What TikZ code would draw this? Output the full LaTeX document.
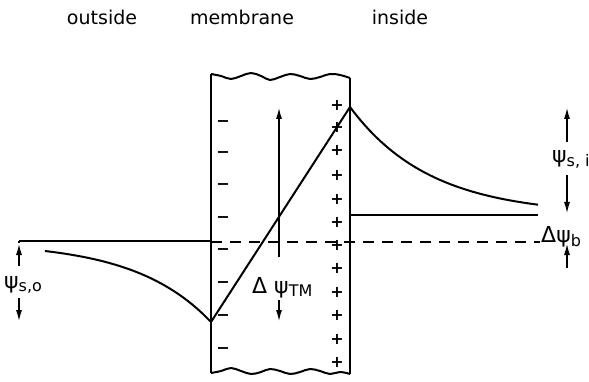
\documentclass[tikz,border=0pt]{standalone}
\usepackage{fontspec}
\setmainfont{DejaVu Sans}
\usetikzlibrary{arrows.meta}
\newcommand\mysub[1]{\raisebox{-0.3ex}{\fontsize{16}{16}\selectfont #1}}
\begin{document}
\begin{tikzpicture}[x=1pt,y=-1pt,
  thk/.style={line width=2pt},
  edge/.style={line width=2.6pt},
  dim/.style={line width=1.8pt,-{Latex[length=12pt,width=6pt]}},
  lbl/.style={font=\fontsize{19}{22}\selectfont,inner sep=0pt},
  sym/.style={font=\fontsize{22}{24}\selectfont,inner sep=0pt,anchor=base west},
  minus/.style={font=\bfseries\fontsize{16}{16}\selectfont,inner sep=0pt},
  plus/.style={font=\bfseries\fontsize{16}{16}\selectfont,inner sep=0pt}]
\useasboundingbox (0,0) rectangle (589,382);
% header labels
\node[lbl] (out) at (102,17) {outside};
\node[lbl] (mem) at (242,17) {membrane};
\node[lbl] (ins) at (400,17) {inside};
% key coordinates
\coordinate (TL) at (211,74);
\coordinate (TR) at (350,78);
\coordinate (BL) at (211,373);
\coordinate (BR) at (350,374);
\coordinate (V) at (211,322);
\coordinate (P) at (350,107);
\coordinate (oL) at (19,241);
\coordinate (oR) at (211,241);
\coordinate (iL) at (350,215);
\coordinate (iR) at (538,215);
\coordinate (dL) at (211,242);
\coordinate (dR) at (540,242);
% membrane
\draw[edge] (BL) -- (TL);
\draw[edge] (BR) -- (TR);
\draw[thk] plot[smooth,tension=0.7] coordinates {(211,74) (221,76) (231,79) (241,76) (251,73) (261,76) (270,80) (280,77) (290,74) (300,76) (310,79) (320,77) (330,74) (340,75) (350,78)};
\draw[thk] plot[smooth,tension=0.7] coordinates {(211,373) (221,371) (231,368) (241,371) (251,374) (261,372) (270,369) (280,371) (290,374) (300,372) (310,369) (320,371) (330,374) (340,372) (350,374)};
% charges
\foreach \y [count=\i] in {124,155,187,220,252,285,318,351}
  \node[minus] (m\i) at (223,\y) {−};
\foreach \y [count=\i] in {105,127,150,175,199,222,245,268,292,315,339,362}
  \node[plus] (p\i) at (337,\y) {+};
% potential profile
\draw[thk] (oL) -- (oR);
\draw[thk] plot[domain=45:211,samples=50] (\x,{242+80*exp((\x-211)/76)});
\draw[thk] (V) -- (P);
\draw[thk] plot[domain=350:538,samples=50] (\x,{215-108*exp(-(\x-350)/80)});
\draw[thk] (iL) -- (iR);
\draw[line width=1.5pt,dash pattern=on 11pt off 8pt] (dL) -- (dR);
% psi s,o
\coordinate (so1) at (19,266);
\coordinate (so2) at (19,243);
\coordinate (so3) at (19,298);
\coordinate (so4) at (19,322);
\draw[thk] (oL) -- (so2);
\draw[dim] (so1) -- (so2);
\draw[dim] (so3) -- (so4);
\node[sym] (lso) at (4,288) {ψ\mysub{s,o}};
% Delta psi TM
\coordinate (tm1) at (279,257);
\coordinate (tm2) at (279,107);
\coordinate (tm3) at (279,300);
\coordinate (tm4) at (279,322);
\draw[dim] (tm1) -- (tm2);
\draw[dim] (tm3) -- (tm4);
\node[sym] (ltm) at (252,293) {Δ ψ\mysub{TM}};
% psi s,i
\coordinate (si1) at (567,142);
\coordinate (si2) at (567,107);
\coordinate (si3) at (567,175);
\coordinate (si4) at (567,214);
\draw[dim] (si1) -- (si2);
\draw[dim] (si3) -- (si4);
\node[sym] (lsi) at (552,163) {ψ\mysub{s, i}};
% Delta psi b
\coordinate (b1) at (567,268);
\coordinate (b2) at (567,243);
\draw[dim] (b1) -- (b2);
\node[sym] (lb) at (541,243) {Δψ\mysub{b}};
\end{tikzpicture}
\end{document}
